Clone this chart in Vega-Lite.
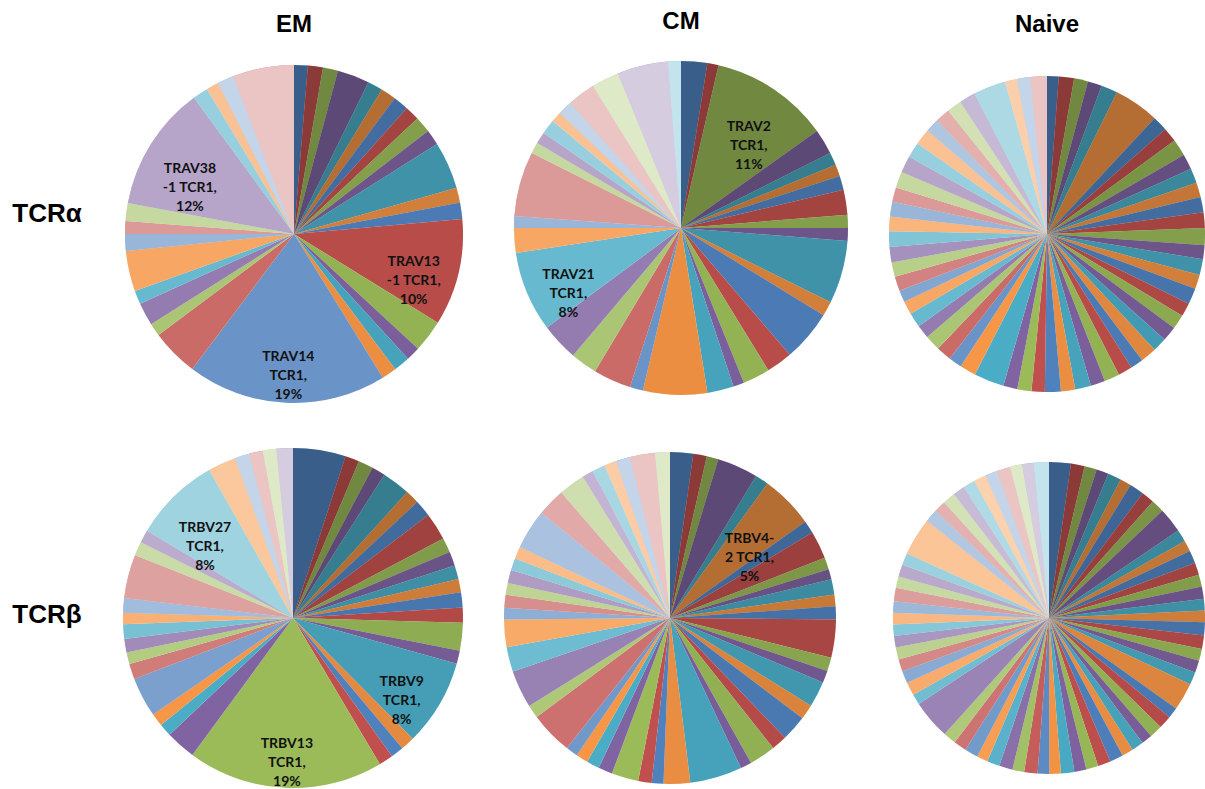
{
  "$schema": "https://vega.github.io/schema/vega-lite/v6.json",
  "background": "white",
  "padding": {"left": 5, "top": 10, "right": 0, "bottom": 0},
  "spacing": 44,
  "config": {
    "view": {"stroke": null},
    "title": {"font": "Liberation Sans", "fontSize": 24, "fontWeight": "bold", "color": "#000", "offset": 27, "anchor": "middle", "frame": "group"}
  },
  "datasets": {
    "emA": [
      {"slice":1,"pct":1.31},{"slice":2,"pct":1.44},{"slice":3,"pct":1.44},{"slice":4,"pct":3.06},{"slice":5,"pct":1.44},{"slice":6,"pct":1.47},
      {"slice":7,"pct":1.47},{"slice":8,"pct":1.39},{"slice":9,"pct":1.56},{"slice":10,"pct":1.47},{"slice":11,"pct":4.53},{"slice":12,"pct":1.44},
      {"slice":13,"pct":1.56},{"slice":14,"pct":10.22,"label":"TRAV13\n-1 TCR1,\n10%"},{"slice":15,"pct":3.08},{"slice":16,"pct":1.33},{"slice":17,"pct":1.56},{"slice":18,"pct":1.42},
      {"slice":19,"pct":19.08,"label":"TRAV14\nTCR1,\n19%"},{"slice":20,"pct":4.53},{"slice":21,"pct":1.22},{"slice":22,"pct":2.19},{"slice":23,"pct":1.31},{"slice":24,"pct":3.86},
      {"slice":25,"pct":1.61},{"slice":26,"pct":1.22},{"slice":27,"pct":1.72},{"slice":28,"pct":11.97,"label":"TRAV38\n-1 TCR1,\n12%"},{"slice":29,"pct":1.47},{"slice":30,"pct":1.19},
      {"slice":31,"pct":1.56},{"slice":32,"pct":5.86}
    ],
    "cmA": [
      {"slice":1,"pct":2.53},{"slice":2,"pct":1.08},{"slice":3,"pct":11.53,"label":"TRAV2\nTCR1,\n11%"},{"slice":4,"pct":2.44},{"slice":5,"pct":1.25},{"slice":6,"pct":1.14},
      {"slice":7,"pct":1.36},{"slice":8,"pct":2.42},{"slice":9,"pct":1.25},{"slice":10,"pct":1.25},{"slice":11,"pct":6.08},{"slice":12,"pct":1.42},
      {"slice":13,"pct":4.97},{"slice":14,"pct":2.53},{"slice":15,"pct":2.61},{"slice":16,"pct":1.06},{"slice":17,"pct":2.56},{"slice":18,"pct":6.19},
      {"slice":19,"pct":1.28},{"slice":20,"pct":3.67},{"slice":21,"pct":2.58},{"slice":22,"pct":3.64},{"slice":23,"pct":7.78,"label":"TRAV21\nTCR1,\n8%"},{"slice":24,"pct":2.39},
      {"slice":25,"pct":1.14},{"slice":26,"pct":6.28},{"slice":27,"pct":1.08},{"slice":28,"pct":1.14},{"slice":29,"pct":1.42},{"slice":30,"pct":1.03},
      {"slice":31,"pct":1.39},{"slice":32,"pct":2.69},{"slice":33,"pct":2.67},{"slice":34,"pct":4.92},{"slice":35,"pct":1.25}
    ],
    "naA": [
      {"slice":1,"pct":1.19},{"slice":2,"pct":1.56},{"slice":3,"pct":1.42},{"slice":4,"pct":1.44},{"slice":5,"pct":1.69},{"slice":6,"pct":4.61},
      {"slice":7,"pct":1.53},{"slice":8,"pct":1.48},{"slice":9,"pct":1.73},{"slice":10,"pct":1.56},{"slice":11,"pct":1.51},{"slice":12,"pct":1.51},
      {"slice":13,"pct":1.56},{"slice":14,"pct":1.59},{"slice":15,"pct":1.73},{"slice":16,"pct":1.42},{"slice":17,"pct":1.62},{"slice":18,"pct":1.45},
      {"slice":19,"pct":1.64},{"slice":20,"pct":1.39},{"slice":21,"pct":1.48},{"slice":22,"pct":1.51},{"slice":23,"pct":1.42},{"slice":24,"pct":1.64},
      {"slice":25,"pct":1.31},{"slice":26,"pct":1.45},{"slice":27,"pct":1.56},{"slice":28,"pct":1.48},{"slice":29,"pct":1.62},{"slice":30,"pct":1.45},
      {"slice":31,"pct":1.62},{"slice":32,"pct":1.36},{"slice":33,"pct":1.44},{"slice":34,"pct":1.44},{"slice":35,"pct":3.08},{"slice":36,"pct":1.65},
      {"slice":37,"pct":1.37},{"slice":38,"pct":1.54},{"slice":39,"pct":1.59},{"slice":40,"pct":1.37},{"slice":41,"pct":1.51},{"slice":42,"pct":1.37},
      {"slice":43,"pct":1.21},{"slice":44,"pct":1.48},{"slice":45,"pct":1.46},{"slice":46,"pct":1.59},{"slice":47,"pct":1.59},{"slice":48,"pct":1.48},
      {"slice":49,"pct":1.51},{"slice":50,"pct":1.48},{"slice":51,"pct":1.65},{"slice":52,"pct":1.71},{"slice":53,"pct":1.59},{"slice":54,"pct":1.65},
      {"slice":55,"pct":1.37},{"slice":56,"pct":1.51},{"slice":57,"pct":1.51},{"slice":58,"pct":1.65},{"slice":59,"pct":3.31},{"slice":60,"pct":1.22},
      {"slice":61,"pct":1.36},{"slice":62,"pct":1.69}
    ],
    "emB": [
      {"slice":1,"pct":5.0},{"slice":2,"pct":1.33},{"slice":3,"pct":1.42},{"slice":4,"pct":1.28},{"slice":5,"pct":2.69},{"slice":6,"pct":1.33},
      {"slice":7,"pct":1.58},{"slice":8,"pct":2.61},{"slice":9,"pct":1.42},{"slice":10,"pct":1.33},{"slice":11,"pct":1.31},{"slice":12,"pct":1.28},
      {"slice":13,"pct":1.44},{"slice":14,"pct":1.42},{"slice":15,"pct":2.64},{"slice":16,"pct":1.25},{"slice":17,"pct":8.22,"label":"TRBV9\nTCR1,\n8%"},{"slice":18,"pct":1.33},
      {"slice":19,"pct":1.22},{"slice":20,"pct":1.36},{"slice":21,"pct":18.61,"label":"TRBV13\nTCR1,\n19%"},{"slice":22,"pct":2.86},{"slice":23,"pct":1.22},{"slice":24,"pct":1.22},
      {"slice":25,"pct":3.78},{"slice":26,"pct":1.47},{"slice":27,"pct":1.11},{"slice":28,"pct":1.28},{"slice":29,"pct":1.39},{"slice":30,"pct":1.08},
      {"slice":31,"pct":1.39},{"slice":32,"pct":4.14},{"slice":33,"pct":1.33},{"slice":34,"pct":1.22},{"slice":35,"pct":8.22,"label":"TRBV27\nTCR1,\n8%"},{"slice":36,"pct":2.67},
      {"slice":37,"pct":1.36},{"slice":38,"pct":1.33},{"slice":39,"pct":1.28},{"slice":40,"pct":1.56}
    ],
    "cmB": [
      {"slice":1,"pct":2.25},{"slice":2,"pct":1.31},{"slice":3,"pct":1.14},{"slice":4,"pct":3.97},{"slice":5,"pct":1.31},{"slice":6,"pct":5.17,"label":"TRBV4-\n2 TCR1,\n5%"},
      {"slice":7,"pct":1.25},{"slice":8,"pct":2.69},{"slice":9,"pct":1.17},{"slice":10,"pct":1.0},{"slice":11,"pct":1.47},{"slice":12,"pct":1.14},
      {"slice":13,"pct":1.28},{"slice":14,"pct":3.69},{"slice":15,"pct":1.33},{"slice":16,"pct":1.19},{"slice":17,"pct":2.5},{"slice":18,"pct":1.47},
      {"slice":19,"pct":2.5},{"slice":20,"pct":1.5},{"slice":21,"pct":2.56},{"slice":22,"pct":1.08},{"slice":23,"pct":5.08},{"slice":24,"pct":2.58},
      {"slice":25,"pct":1.14},{"slice":26,"pct":1.31},{"slice":27,"pct":2.61},{"slice":28,"pct":1.39},{"slice":29,"pct":1.25},{"slice":30,"pct":1.17},
      {"slice":31,"pct":1.17},{"slice":32,"pct":4.17},{"slice":33,"pct":1.28},{"slice":34,"pct":3.67},{"slice":35,"pct":2.39},{"slice":36,"pct":2.69},
      {"slice":37,"pct":1.11},{"slice":38,"pct":1.28},{"slice":39,"pct":1.14},{"slice":40,"pct":1.28},{"slice":41,"pct":1.17},{"slice":42,"pct":1.19},
      {"slice":43,"pct":3.89},{"slice":44,"pct":2.72},{"slice":45,"pct":2.56},{"slice":46,"pct":1.08},{"slice":47,"pct":1.28},{"slice":48,"pct":1.17},
      {"slice":49,"pct":1.39},{"slice":50,"pct":2.44},{"slice":51,"pct":1.44}
    ],
    "naB": [
      {"slice":1,"pct":2.25},{"slice":2,"pct":1.42},{"slice":3,"pct":1.28},{"slice":4,"pct":1.25},{"slice":5,"pct":1.39},{"slice":6,"pct":1.17},
      {"slice":7,"pct":1.5},{"slice":8,"pct":1.33},{"slice":9,"pct":1.36},{"slice":10,"pct":2.58},{"slice":11,"pct":1.25},{"slice":12,"pct":1.17},
      {"slice":13,"pct":1.33},{"slice":14,"pct":1.25},{"slice":15,"pct":1.25},{"slice":16,"pct":1.25},{"slice":17,"pct":1.22},{"slice":18,"pct":1.19},
      {"slice":19,"pct":1.36},{"slice":20,"pct":1.39},{"slice":21,"pct":1.25},{"slice":22,"pct":1.25},{"slice":23,"pct":1.31},{"slice":24,"pct":2.86},
      {"slice":25,"pct":1.11},{"slice":26,"pct":1.36},{"slice":27,"pct":1.33},{"slice":28,"pct":1.11},{"slice":29,"pct":1.25},{"slice":30,"pct":1.17},
      {"slice":31,"pct":1.39},{"slice":32,"pct":1.33},{"slice":33,"pct":1.25},{"slice":34,"pct":1.25},{"slice":35,"pct":1.39},{"slice":36,"pct":1.19},
      {"slice":37,"pct":1.19},{"slice":38,"pct":1.39},{"slice":39,"pct":1.22},{"slice":40,"pct":1.39},{"slice":41,"pct":1.31},{"slice":42,"pct":1.14},
      {"slice":43,"pct":1.39},{"slice":44,"pct":1.33},{"slice":45,"pct":1.33},{"slice":46,"pct":4.06},{"slice":47,"pct":1.08},{"slice":48,"pct":1.39},
      {"slice":49,"pct":1.28},{"slice":50,"pct":1.25},{"slice":51,"pct":1.25},{"slice":52,"pct":1.19},{"slice":53,"pct":1.19},{"slice":54,"pct":1.19},
      {"slice":55,"pct":1.17},{"slice":56,"pct":1.39},{"slice":57,"pct":1.19},{"slice":58,"pct":1.25},{"slice":59,"pct":1.25},{"slice":60,"pct":3.94},
      {"slice":61,"pct":1.33},{"slice":62,"pct":1.22},{"slice":63,"pct":1.31},{"slice":64,"pct":1.22},{"slice":65,"pct":1.25},{"slice":66,"pct":1.28},
      {"slice":67,"pct":1.25},{"slice":68,"pct":1.42},{"slice":69,"pct":1.22},{"slice":70,"pct":1.22},{"slice":71,"pct":1.56}
    ],
    "rowA": [{"t": "TCRα"}],
    "rowB": [{"t": "TCRβ"}]
  },
  "resolve": {"scale": {"theta": "independent", "opacity": "independent"}},
  "vconcat": [
    {
      "spacing": 76,
      "bounds": "flush",
      "resolve": {"scale": {"theta": "independent", "opacity": "independent"}},
      "hconcat": [
        {
          "width": 62, "height": 340,
          "data": {"name": "rowA"},
          "mark": {"type": "text", "font": "Liberation Sans", "fontSize": 26, "fontWeight": "bold", "color": "#000", "dx": 11, "dy": -20},
          "encoding": {"text": {"field": "t", "type": "nominal"}}
        },
        {
          "width": 302, "height": 340,
          "title": {"text": "EM"},
          "data": {"name": "emA"},
          "encoding": {
            "theta": {"field": "pct", "type": "quantitative", "stack": true},
            "order": {"field": "slice", "type": "quantitative"},
            "detail": {"field": "slice", "type": "nominal"}
          },
          "resolve": {"scale": {"opacity": "independent"}},
          "layer": [
            {"mark": {"type": "arc", "outerRadius": 169}, "encoding": {"color": {"field": "slice", "type": "nominal", "legend": null, "scale": {"range": ["#4F81BD", "#C0504D", "#9BBB59", "#8064A2", "#4BACC6", "#F79646"]}}}},
            {"mark": {"type": "arc", "outerRadius": 169, "fill": "#000"}, "encoding": {"opacity": {"field": "slice", "type": "quantitative", "legend": null, "scale": {"type": "quantize", "domain": [0.5, 36.5], "nice": false, "zero": false, "range": [0.27, 0.15, 0.047, 0, 0, 0]}}}},
            {"mark": {"type": "arc", "outerRadius": 169, "fill": "#fff"}, "encoding": {"opacity": {"field": "slice", "type": "quantitative", "legend": null, "scale": {"type": "quantize", "domain": [0.5, 36.5], "nice": false, "zero": false, "range": [0, 0, 0, 0.157, 0.423, 0.67]}}}},
            {"mark": {"type": "text", "radius": 123, "font": "Lato", "fontSize": 14, "fontWeight": "bold", "lineHeight": 19, "lineBreak": "\n", "color": "#111", "align": "center", "baseline": "middle"},
             "encoding": {"text": {"condition": {"test": "isValid(datum.label)", "field": "label", "type": "nominal"}, "value": ""}}}
          ]
        },
        {
          "width": 320, "height": 328,
          "title": {"text": "CM"},
          "data": {"name": "cmA"},
          "encoding": {
            "theta": {"field": "pct", "type": "quantitative", "stack": true},
            "order": {"field": "slice", "type": "quantitative"},
            "detail": {"field": "slice", "type": "nominal"}
          },
          "resolve": {"scale": {"opacity": "independent"}},
          "layer": [
            {"mark": {"type": "arc", "outerRadius": 167}, "encoding": {"color": {"field": "slice", "type": "nominal", "legend": null, "scale": {"range": ["#4F81BD", "#C0504D", "#9BBB59", "#8064A2", "#4BACC6", "#F79646"]}}}},
            {"mark": {"type": "arc", "outerRadius": 167, "fill": "#000"}, "encoding": {"opacity": {"field": "slice", "type": "quantitative", "legend": null, "scale": {"type": "quantize", "domain": [0.5, 36.5], "nice": false, "zero": false, "range": [0.27, 0.15, 0.047, 0, 0, 0]}}}},
            {"mark": {"type": "arc", "outerRadius": 167, "fill": "#fff"}, "encoding": {"opacity": {"field": "slice", "type": "quantitative", "legend": null, "scale": {"type": "quantize", "domain": [0.5, 36.5], "nice": false, "zero": false, "range": [0, 0, 0, 0.157, 0.423, 0.67]}}}},
            {"mark": {"type": "text", "radius": 122, "font": "Lato", "fontSize": 14, "fontWeight": "bold", "lineHeight": 19, "lineBreak": "\n", "color": "#111", "align": "center", "baseline": "middle"},
             "encoding": {"text": {"condition": {"test": "isValid(datum.label)", "field": "label", "type": "nominal"}, "value": ""}}}
          ]
        },
        {
          "width": 260, "height": 340,
          "title": {"text": "Naive"},
          "data": {"name": "naA"},
          "encoding": {
            "theta": {"field": "pct", "type": "quantitative", "stack": true},
            "order": {"field": "slice", "type": "quantitative"},
            "detail": {"field": "slice", "type": "nominal"}
          },
          "resolve": {"scale": {"opacity": "independent"}},
          "layer": [
            {"mark": {"type": "arc", "outerRadius": 158}, "encoding": {"color": {"field": "slice", "type": "nominal", "legend": null, "scale": {"range": ["#4F81BD", "#C0504D", "#9BBB59", "#8064A2", "#4BACC6", "#F79646"]}}}},
            {"mark": {"type": "arc", "outerRadius": 158, "fill": "#000"}, "encoding": {"opacity": {"field": "slice", "type": "quantitative", "legend": null, "scale": {"type": "quantize", "domain": [0.5, 66.5], "nice": false, "zero": false, "range": [0.27, 0.207, 0.15, 0.096, 0.047, 0, 0, 0, 0, 0, 0]}}}},
            {"mark": {"type": "arc", "outerRadius": 158, "fill": "#fff"}, "encoding": {"opacity": {"field": "slice", "type": "quantitative", "legend": null, "scale": {"type": "quantize", "domain": [0.5, 66.5], "nice": false, "zero": false, "range": [0, 0, 0, 0, 0, 0, 0.157, 0.294, 0.423, 0.548, 0.67]}}}}
          ]
        }
      ]
    },
    {
      "spacing": 76,
      "bounds": "flush",
      "resolve": {"scale": {"theta": "independent", "opacity": "independent"}},
      "hconcat": [
        {
          "width": 62, "height": 340,
          "data": {"name": "rowB"},
          "mark": {"type": "text", "font": "Liberation Sans", "fontSize": 26, "fontWeight": "bold", "color": "#000", "dx": 11, "dy": -3},
          "encoding": {"text": {"field": "t", "type": "nominal"}}
        },
        {
          "width": 300, "height": 340,
          "data": {"name": "emB"},
          "encoding": {
            "theta": {"field": "pct", "type": "quantitative", "stack": true},
            "order": {"field": "slice", "type": "quantitative"},
            "detail": {"field": "slice", "type": "nominal"}
          },
          "resolve": {"scale": {"opacity": "independent"}},
          "layer": [
            {"mark": {"type": "arc", "outerRadius": 170}, "encoding": {"color": {"field": "slice", "type": "nominal", "legend": null, "scale": {"range": ["#4F81BD", "#C0504D", "#9BBB59", "#8064A2", "#4BACC6", "#F79646"]}}}},
            {"mark": {"type": "arc", "outerRadius": 170, "fill": "#000"}, "encoding": {"opacity": {"field": "slice", "type": "quantitative", "legend": null, "scale": {"type": "quantize", "domain": [0.5, 42.5], "nice": false, "zero": false, "range": [0.27, 0.168, 0.08, 0, 0, 0, 0]}}}},
            {"mark": {"type": "arc", "outerRadius": 170, "fill": "#fff"}, "encoding": {"opacity": {"field": "slice", "type": "quantitative", "legend": null, "scale": {"type": "quantize", "domain": [0.5, 42.5], "nice": false, "zero": false, "range": [0, 0, 0, 0, 0.25, 0.465, 0.67]}}}},
            {"mark": {"type": "text", "radius": 126, "font": "Lato", "fontSize": 14, "fontWeight": "bold", "lineHeight": 19, "lineBreak": "\n", "color": "#111", "align": "center", "baseline": "middle"},
             "encoding": {"text": {"condition": {"test": "isValid(datum.label)", "field": "label", "type": "nominal"}, "value": ""}}}
          ]
        },
        {
          "width": 302, "height": 340,
          "data": {"name": "cmB"},
          "encoding": {
            "theta": {"field": "pct", "type": "quantitative", "stack": true},
            "order": {"field": "slice", "type": "quantitative"},
            "detail": {"field": "slice", "type": "nominal"}
          },
          "resolve": {"scale": {"opacity": "independent"}},
          "layer": [
            {"mark": {"type": "arc", "outerRadius": 166}, "encoding": {"color": {"field": "slice", "type": "nominal", "legend": null, "scale": {"range": ["#4F81BD", "#C0504D", "#9BBB59", "#8064A2", "#4BACC6", "#F79646"]}}}},
            {"mark": {"type": "arc", "outerRadius": 166, "fill": "#000"}, "encoding": {"opacity": {"field": "slice", "type": "quantitative", "legend": null, "scale": {"type": "quantize", "domain": [0.5, 54.5], "nice": false, "zero": false, "range": [0.27, 0.192, 0.123, 0.059, 0, 0, 0, 0, 0]}}}},
            {"mark": {"type": "arc", "outerRadius": 166, "fill": "#fff"}, "encoding": {"opacity": {"field": "slice", "type": "quantitative", "legend": null, "scale": {"type": "quantize", "domain": [0.5, 54.5], "nice": false, "zero": false, "range": [0, 0, 0, 0, 0, 0.192, 0.359, 0.517, 0.67]}}}},
            {"mark": {"type": "text", "radius": 112, "font": "Lato", "fontSize": 14, "fontWeight": "bold", "lineHeight": 19, "lineBreak": "\n", "color": "#111", "align": "center", "baseline": "middle"},
             "encoding": {"text": {"condition": {"test": "isValid(datum.label)", "field": "label", "type": "nominal"}, "value": ""}}}
          ]
        },
        {
          "width": 304, "height": 340,
          "data": {"name": "naB"},
          "encoding": {
            "theta": {"field": "pct", "type": "quantitative", "stack": true},
            "order": {"field": "slice", "type": "quantitative"},
            "detail": {"field": "slice", "type": "nominal"}
          },
          "resolve": {"scale": {"opacity": "independent"}},
          "layer": [
            {"mark": {"type": "arc", "outerRadius": 156}, "encoding": {"color": {"field": "slice", "type": "nominal", "legend": null, "scale": {"range": ["#4F81BD", "#C0504D", "#9BBB59", "#8064A2", "#4BACC6", "#F79646"]}}}},
            {"mark": {"type": "arc", "outerRadius": 156, "fill": "#000"}, "encoding": {"opacity": {"field": "slice", "type": "quantitative", "legend": null, "scale": {"type": "quantize", "domain": [0.5, 72.5], "nice": false, "zero": false, "range": [0.27, 0.213, 0.16, 0.11, 0.064, 0.021, 0, 0, 0, 0, 0, 0]}}}},
            {"mark": {"type": "arc", "outerRadius": 156, "fill": "#fff"}, "encoding": {"opacity": {"field": "slice", "type": "quantitative", "legend": null, "scale": {"type": "quantize", "domain": [0.5, 72.5], "nice": false, "zero": false, "range": [0, 0, 0, 0, 0, 0, 0.077, 0.207, 0.329, 0.446, 0.559, 0.67]}}}}
          ]
        }
      ]
    }
  ]
}
